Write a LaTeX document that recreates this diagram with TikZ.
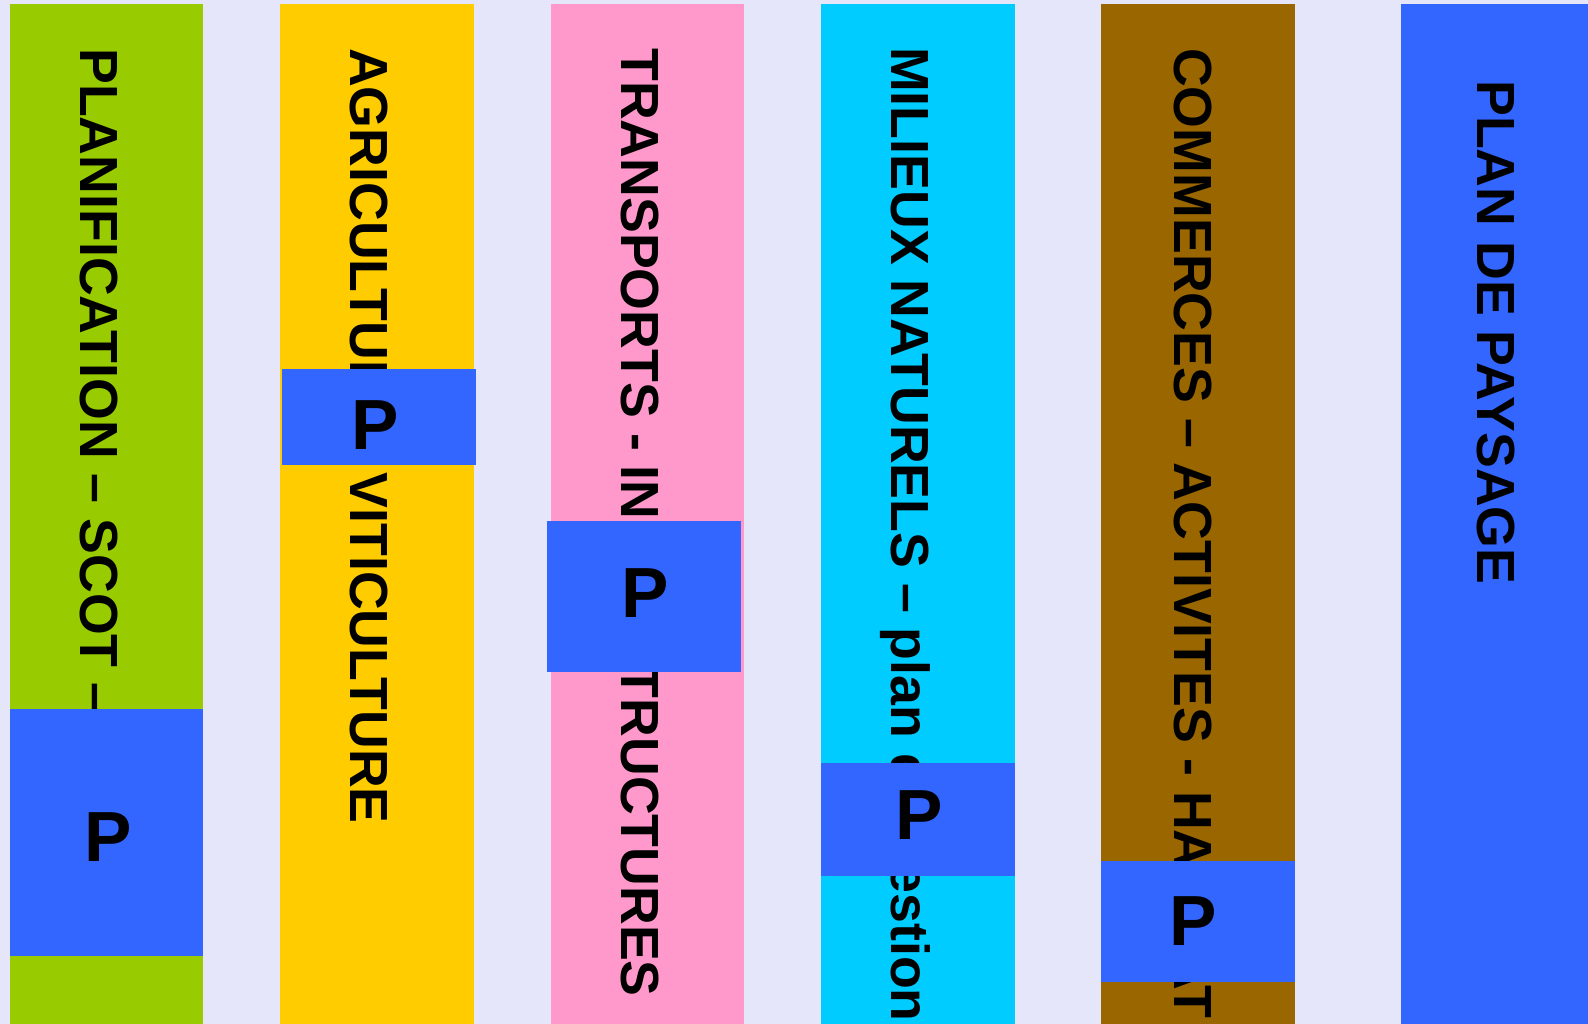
\documentclass[tikz,border=0pt]{standalone}
\usepackage{fontspec}
\setmainfont{Liberation Sans}
\definecolor{fond}{RGB}{230,230,250}
\definecolor{vert}{HTML}{99CC00}
\definecolor{jaune}{HTML}{FFCC00}
\definecolor{rose}{HTML}{FF99CC}
\definecolor{ciel}{HTML}{00CCFF}
\definecolor{brun}{HTML}{996600}
\definecolor{bleu}{HTML}{3366FF}
\tikzset{
  titre/.style={rotate=-90,anchor=base west,inner sep=0pt,
    font=\fontsize{53.7}{60}\selectfont\bfseries},
  lettre/.style={inner sep=0pt,font=\fontsize{71}{80}\selectfont\bfseries}
}

\begin{document}
\begin{tikzpicture}[x=1pt,y=-1pt]
\useasboundingbox (0,0) rectangle (1588,1024);
\clip (0,0) rectangle (1588,1024);
\fill[fond] (0,0) rectangle (1588,1024);
\fill[vert] (10,4) rectangle (203,1024);
\fill[jaune] (280,4) rectangle (474,1024);
\fill[rose] (551,4) rectangle (744,1024);
\fill[ciel] (821,4) rectangle (1015,1024);
\fill[brun] (1101,4) rectangle (1295,1024);
\fill[bleu] (1401,4) rectangle (1588,1024);
\node[titre] (planif) at (80,48) {PLANIFICATION – SCOT –};
\node[titre] (agri) at (350,48) {AGRICULTURE\hspace{.7em}VITICULTURE};
\node[titre] (transp) at (621,48) {TRANSPORTS - INFRASTRUCTURES};
\node[titre] (milieux) at (891,47) {MILIEUX NATURELS – plan de gestion};
\node[titre] (commerces) at (1174,48) {COMMERCES – ACTIVITES - HABITAT};
\node[titre] (paysage) at (1477,80) {PLAN DE PAYSAGE};
\fill[bleu] (10,709) rectangle (203,956);
\fill[bleu] (282,369) rectangle (476,465);
\fill[bleu] (547,521) rectangle (741,672);
\fill[bleu] (821,763) rectangle (1015,876);
\fill[bleu] (1101,861) rectangle (1295,982);
\node[lettre] (p1) at (108,837) {P};
\node[lettre] (p2) at (375,425) {P};
\node[lettre] (p3) at (645,593) {P};
\node[lettre] (p4) at (919,815) {P};
\node[lettre] (p5) at (1193,921) {P};
\end{tikzpicture}
\end{document}
